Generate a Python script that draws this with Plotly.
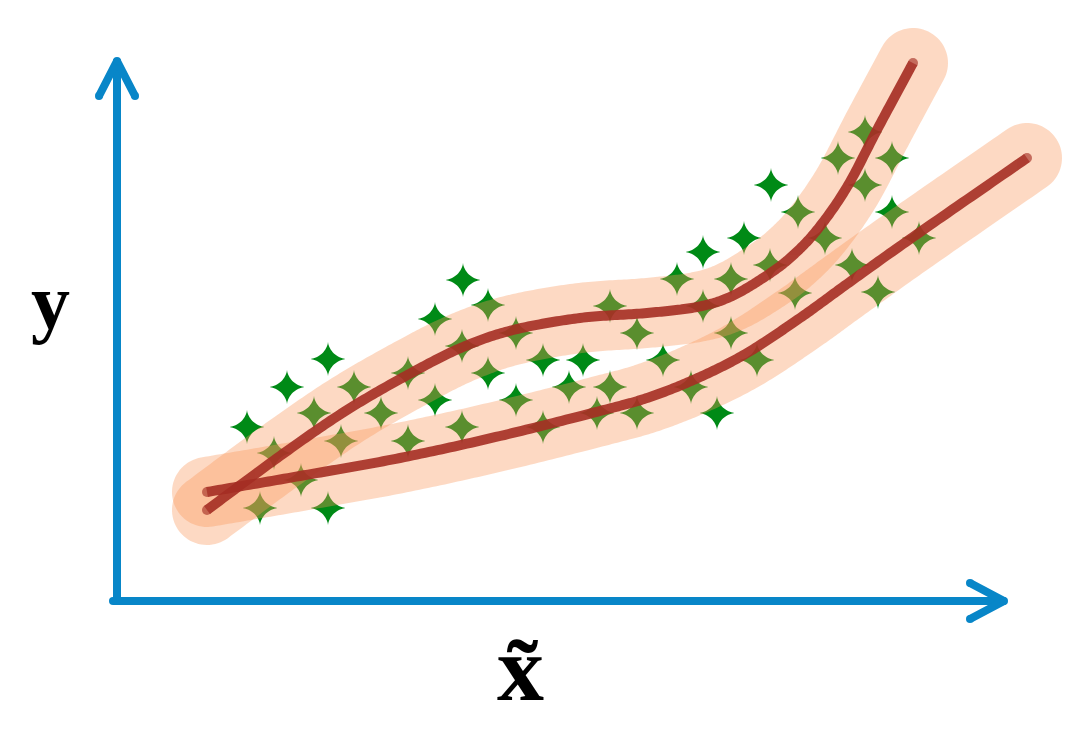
import numpy as np
import plotly.graph_objects as go

# ---------------- data (pixel-space coordinates of the diagram) ----------------
star_x = [463, 488, 435, 328, 287, 354, 408, 462, 516, 488, 543, 583, 610, 637, 569, 610, 663,
          677, 703, 703, 731, 744, 771, 770, 798, 825, 795, 731, 757, 691, 717, 637, 597, 543,
          516, 462, 435, 408, 381, 341, 314, 247, 274, 301, 260, 328, 865, 838, 892, 865, 892,
          919, 852, 878]
star_y = [280, 305, 319, 359, 387, 387, 373, 346, 333, 373, 360, 360, 306, 333, 387, 387, 360,
          279, 252, 306, 279, 238, 185, 265, 212, 238, 293, 333, 360, 387, 413, 413, 413, 427,
          400, 427, 400, 441, 413, 441, 413, 427, 453, 480, 508, 508, 132, 158, 158, 185, 212,
          238, 265, 292]

upper_x = [207, 280, 347, 413, 463, 513, 580, 647, 697, 730, 763, 790, 817, 847, 878, 913]
upper_y = [510, 456, 410, 372, 347, 330, 318, 313, 307, 297, 278, 258, 230, 187, 128, 63]

lower_x = [207, 300, 400, 500, 600, 650, 700, 747, 800, 847, 913, 1027]
lower_y = [492, 476, 458, 436, 411, 397, 377, 353, 318, 284, 237, 158]

# axis arrow geometry
yaxis_arrow_x = [117, 117, None, 99, 117, 135]
yaxis_arrow_y = [601, 62, None, 96, 61, 96]
xaxis_arrow_x = [113, 1003, None, 970, 1004, 970]
xaxis_arrow_y = [601, 601, None, 583, 601, 619]

x_label = "x\u0303"
y_label = "y"

# ---------------- styles ----------------
W, H = 1088, 732
STAR_GREEN = "rgb(0,138,22)"
BAND_FILL = "rgba(250,150,90,0.36)"
BAND_HALF_WIDTH = 35
RED = "rgb(165,45,35)"
BLUE = "rgb(8,134,200)"


def catmull_rom(xs, ys, steps=24):
    p = np.column_stack([xs, ys]).astype(float)
    p = np.vstack([2 * p[0] - p[1], p, 2 * p[-1] - p[-2]])
    out = []
    t = np.linspace(0, 1, steps, endpoint=False)[:, None]
    for i in range(1, len(p) - 2):
        p0, p1, p2, p3 = p[i - 1], p[i], p[i + 1], p[i + 2]
        seg = 0.5 * (2 * p1 + (-p0 + p2) * t + (2 * p0 - 5 * p1 + 4 * p2 - p3) * t ** 2
                     + (-p0 + 3 * p1 - 3 * p2 + p3) * t ** 3)
        out.append(seg)
    out.append(p[-2][None, :])
    return np.vstack(out)


def band_outline(curve, r):
    tx, ty = np.gradient(curve[:, 0]), np.gradient(curve[:, 1])
    norm = np.hypot(tx, ty)
    tx, ty = tx / norm, ty / norm
    nx, ny = -ty, tx
    left = curve + r * np.column_stack([nx, ny])
    right = curve - r * np.column_stack([nx, ny])
    th_end = np.arctan2(ty[-1], tx[-1])
    a_end = np.linspace(th_end + np.pi / 2, th_end - np.pi / 2, 40)
    cap_end = curve[-1] + r * np.column_stack([np.cos(a_end), np.sin(a_end)])
    th0 = np.arctan2(ty[0], tx[0])
    a0 = np.linspace(th0 - np.pi / 2, th0 - 3 * np.pi / 2, 40)
    cap0 = curve[0] + r * np.column_stack([np.cos(a0), np.sin(a0)])
    poly = np.vstack([left, cap_end, right[::-1], cap0])
    return poly


# sparkle (4-point star) outlines around each star centre
tt = np.linspace(0, 2 * np.pi, 97)
c, s = np.cos(tt), np.sin(tt)
ux = np.sign(c) * np.abs(c) ** 3.3
uy = np.sign(s) * np.abs(s) ** 3.3
RX, RY = 18.5, 17.5
sx, sy = [], []
for cx, cy in zip(star_x, star_y):
    sx.extend(list(cx + RX * ux) + [None])
    sy.extend(list(cy + RY * uy) + [None])

fig = go.Figure()

fig.add_trace(go.Scatter(x=sx, y=sy, mode="lines", fill="toself",
                         fillcolor=STAR_GREEN, line=dict(width=0, color=STAR_GREEN, simplify=False),
                         hoverinfo="skip", showlegend=False))

curves = [catmull_rom(upper_x, upper_y), catmull_rom(lower_x, lower_y)]

for cv in curves:
    poly = band_outline(cv, BAND_HALF_WIDTH)
    fig.add_trace(go.Scatter(x=poly[:, 0], y=poly[:, 1], mode="lines", fill="toself",
                             fillcolor=BAND_FILL,
                             line=dict(width=0, color=BAND_FILL, simplify=False),
                             hoverinfo="skip", showlegend=False))

for cv in curves:
    n = len(cv)
    sizes = [0] * n
    sizes[0] = 10
    sizes[-1] = 10
    fig.add_trace(go.Scatter(x=cv[:, 0], y=cv[:, 1], mode="lines+markers",
                             line=dict(color=RED, width=10, simplify=False),
                             marker=dict(size=sizes, color=RED, line=dict(width=0)),
                             opacity=0.9, hoverinfo="skip", showlegend=False))

for ax_x, ax_y in [(yaxis_arrow_x, yaxis_arrow_y), (xaxis_arrow_x, xaxis_arrow_y)]:
    fig.add_trace(go.Scatter(x=ax_x, y=ax_y, mode="lines+markers",
                             line=dict(color=BLUE, width=8),
                             marker=dict(size=8, color=BLUE, line=dict(width=0)),
                             connectgaps=False, hoverinfo="skip", showlegend=False))

fig.add_annotation(x=50, y=301, xref="x", yref="y", text="<b>" + y_label + "</b>", showarrow=False,
                   font=dict(family="Liberation Serif", size=78, color="black"),
                   xanchor="center", yanchor="middle")
fig.add_annotation(x=520, y=668, xref="x", yref="y", text="<b>" + x_label + "</b>", showarrow=False,
                   font=dict(family="Liberation Serif", size=94, color="black"),
                   xanchor="center", yanchor="middle")

fig.update_layout(width=W, height=H, margin=dict(l=0, r=0, t=0, b=0),
                  paper_bgcolor="white", plot_bgcolor="white", showlegend=False,
                  hovermode=False,
                  xaxis=dict(range=[0, W], visible=False, fixedrange=True),
                  yaxis=dict(range=[H, 0], visible=False, fixedrange=True))

fig.write_html("out.html", config={"displayModeBar": False, "staticPlot": True},
               post_script="document.body.style.margin='0px';document.body.style.overflow='hidden';")
